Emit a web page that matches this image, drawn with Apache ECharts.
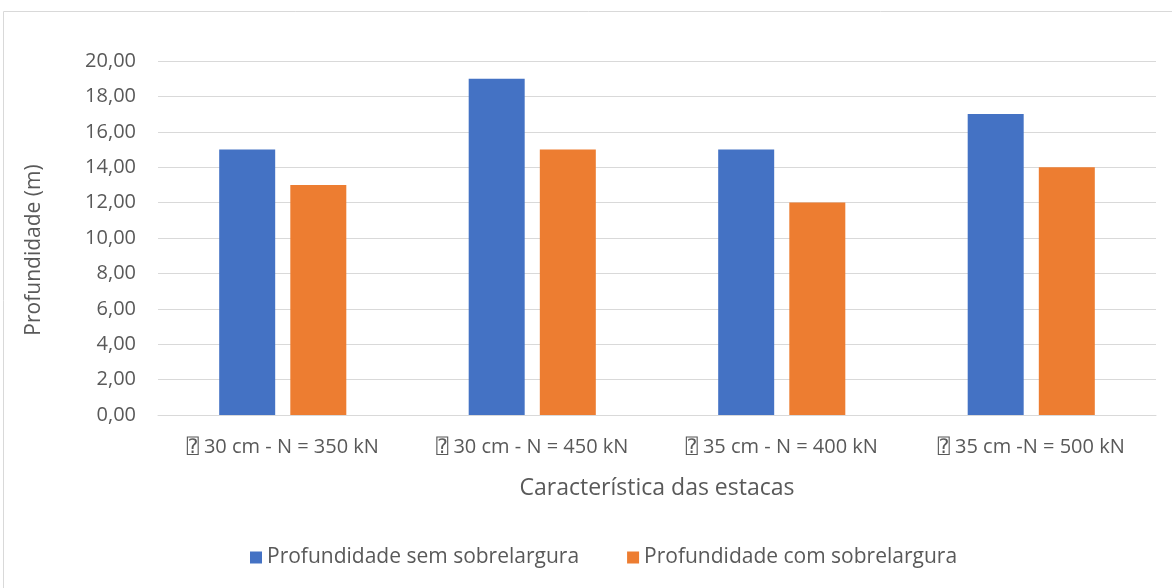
<!DOCTYPE html>
<html><head><meta charset="utf-8">
<script src="https://cdn.jsdelivr.net/npm/echarts@6/dist/echarts.min.js"></script>
<style>html,body{margin:0;padding:0;background:#fff;}#c{width:1172px;height:588px;}</style>
</head><body><div id="c"></div>
<script>
const categories = ["\u2370 30 cm - N = 350 kN", "\u2370 30 cm - N = 450 kN", "\u2370 35 cm - N = 400 kN", "\u2370 35 cm -N = 500 kN"];
const semSobrelargura = [15, 19, 15, 17];
const comSobrelargura = [13, 15, 12, 14];
const seriesNames = ["Profundidade sem sobrelargura", "Profundidade com sobrelargura"];

const chart = echarts.init(document.getElementById('c'), null, {renderer: 'canvas'});
const font = "'Open Sans', 'DejaVu Sans Mono', 'DejaVu Sans', sans-serif";
chart.setOption({
  animation: false,
  textStyle: {fontFamily: font},
  graphic: [{type: 'rect', shape: {x: 3.5, y: 11.5, width: 1180, height: 600}, style: {fill: 'none', stroke: '#d9d9d9', lineWidth: 1}, silent: true, z: -10}],
  grid: {left: 158, right: 16, top: 61, bottom: 173, containLabel: false},
  legend: {
    left: 245, top: 542, itemWidth: 12, itemHeight: 12, itemGap: 48,
    icon: 'rect',
    textStyle: {color: '#595959', fontSize: 21, fontFamily: font},
    data: seriesNames
  },
  xAxis: {
    type: 'category', data: categories,
    name: 'Característica das estacas', nameLocation: 'middle', nameGap: 62,
    nameTextStyle: {color: '#595959', fontSize: 23, fontFamily: font},
    axisLine: {lineStyle: {color: '#d9d9d9'}},
    axisTick: {show: false},
    axisLabel: {color: '#595959', fontSize: 20, margin: 22, interval: 0, fontFamily: font}
  },
  yAxis: {
    type: 'value', min: 0, max: 20, interval: 2,
    name: 'Profundidade (m)', nameLocation: 'middle', nameGap: 113,
    nameTextStyle: {color: '#595959', fontSize: 21, fontFamily: font, padding: [0, 24, 0, 0]},
    axisLine: {show: false}, axisTick: {show: false},
    axisLabel: {color: '#595959', fontSize: 20, margin: 22, fontFamily: font, formatter: v => v.toFixed(2).replace('.', ',')},
    splitLine: {lineStyle: {color: '#d9d9d9'}}
  },
  series: [
    {name: seriesNames[0], type: 'bar', data: semSobrelargura, barWidth: 56, barGap: '27%', itemStyle: {color: '#4472c4'}},
    {name: seriesNames[1], type: 'bar', data: comSobrelargura, barWidth: 56, itemStyle: {color: '#ed7d31'}}
  ]
});
</script></body></html>
